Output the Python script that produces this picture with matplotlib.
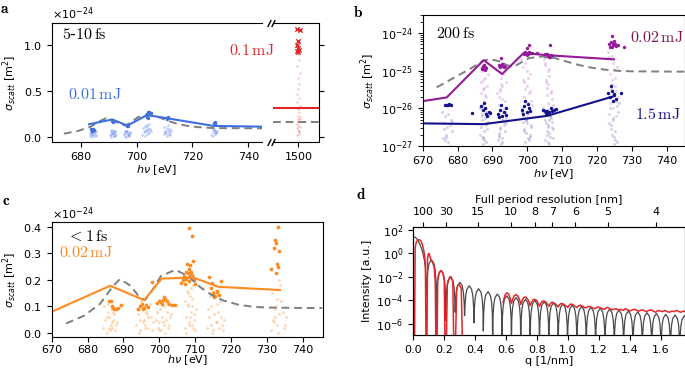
import numpy as np
import matplotlib.pyplot as plt

plt.rcParams['font.size'] = 8
plt.rcParams['mathtext.fontset'] = 'dejavusans'

E24 = 1e-24
GREY = '#7f7f7f'
BLUE = '#3f6ee0'
RED = '#e3262a'
PURPLE = '#951a9a'
PURPLE_TXT = '#7c1650'
NAVY = '#12128c'
ORANGE = '#ff8a1e'

# theory curve shared by a, b, c (sigma in 1e-24 m^2)
theory_e = [674, 679, 683.5, 687, 689, 692, 694.2, 696, 698, 700.5, 704.5, 708, 711.5, 715,
            718, 722, 726, 730, 736, 745.5]
theory_s = [0.036, 0.065, 0.11, 0.175, 0.203, 0.178, 0.14, 0.124, 0.16, 0.215, 0.238, 0.215,
            0.172, 0.14, 0.122, 0.107, 0.099, 0.096, 0.095, 0.094]

# ---- panel a: 5-10 fs, 0.01 mJ (blue) + 0.1 mJ at 1500 eV (red)
a_line_e = [683.0, 691.3, 696.7, 703.8, 711.0, 727.6, 745.0]
a_line_s = [0.138, 0.19, 0.123, 0.238, 0.203, 0.12, 0.112]
a_faint_e = [683.3, 683.9, 684.6, 685.2, 683.6, 684.2, 684.9, 685.6, 683.4, 684.4, 685.0, 684.0, 683.8, 685.4,
             690.6, 691.2, 691.8, 692.4, 690.9, 691.5, 692.1, 692.7, 691.0, 691.7, 692.3, 691.4, 690.8, 692.0,
             695.4, 696.0, 696.6, 697.2, 697.8, 695.7, 696.3, 696.9, 697.5, 696.1, 696.8, 695.9, 697.3, 696.5,
             702.1, 702.7, 703.3, 703.9, 704.5, 705.1, 702.4, 703.0, 703.6, 704.2, 704.8, 702.9, 703.8, 704.4, 703.2, 704.0,
             709.7, 710.3, 710.9, 711.5, 712.1, 710.0, 710.6, 711.2, 711.8, 712.4, 710.8, 711.4, 710.2, 711.6,
             726.7, 727.2, 727.7, 728.2, 728.7, 727.0, 727.5, 728.0, 728.5, 727.3, 727.9, 728.4]
a_faint_s = [0.01, 0.03, 0.02, 0.05, 0.06, 0.00, 0.04, 0.02, 0.04, 0.07, 0.01, 0.05, 0.03, 0.06,
             0.02, 0.05, 0.01, 0.04, 0.06, 0.03, 0.07, 0.02, 0.00, 0.04, 0.06, 0.08, 0.03, 0.01,
             0.03, 0.01, 0.05, 0.02, 0.04, 0.06, 0.00, 0.03, 0.05, 0.07, 0.02, 0.04, 0.01, 0.06,
             0.02, 0.05, 0.08, 0.11, 0.04, 0.07, 0.10, 0.01, 0.13, 0.06, 0.09, 0.12, 0.03, 0.14, 0.06, 0.09,
             0.03, 0.07, 0.01, 0.05, 0.09, 0.11, 0.04, 0.08, 0.02, 0.06, 0.10, 0.13, 0.05, 0.03,
             0.02, 0.05, 0.08, 0.03, 0.06, 0.10, 0.01, 0.07, 0.04, 0.12, 0.09, 0.05]
a_dots_e = [683.8, 684.3, 684.7, 684.1, 691.2, 691.6, 691.9, 696.5, 696.9, 703.4, 703.8, 704.2, 704.6,
            703.6, 704.0, 705.0, 710.8, 711.2, 711.0, 727.8, 728.2, 728.0]
a_dots_s = [0.085, 0.09, 0.08, 0.07, 0.17, 0.16, 0.175, 0.12, 0.115, 0.24, 0.255, 0.27, 0.275,
            0.22, 0.21, 0.26, 0.21, 0.22, 0.2, 0.15, 0.165, 0.14]
a_red_mean = 0.31
a_theory_1500 = 0.166
a_red_x_e = [1499.6, 1500.4, 1500.0, 1499.4, 1499.8, 1500.2, 1499.6, 1500.0]
a_red_x_s = [1.18, 1.16, 1.04, 1.0, 0.97, 0.95, 0.93, 0.92]
a_red_faint_e = [1499.5, 1500.2, 1499.8, 1500.6, 1499.3, 1500.0, 1500.4, 1499.7, 1500.1, 1499.9, 1500.5,
                 1499.4, 1500.3, 1499.6, 1500.0, 1500.2, 1499.8, 1500.4, 1499.5, 1500.1, 1499.9, 1500.3,
                 1499.7, 1500.0, 1500.6, 1499.4, 1500.2, 1499.8]
a_red_faint_s = [0.02, 0.05, 0.08, 0.11, 0.14, 0.17, 0.2, 0.23, 0.27, 0.3, 0.34, 0.38, 0.42, 0.47, 0.52,
                 0.58, 0.64, 0.7, 0.77, 0.84, 0.9, 0.06, 0.12, 0.16, 0.22, 0.1, 0.03, 0.19]

# ---- panel b: 200 fs, log10 sigma
b_pur_e = [670, 676.9, 687.5, 692.8, 699.0, 705.7, 724.9]
b_pur_s = [-25.81, -25.71, -24.72, -25.09, -24.53, -24.59, -24.7]
b_navy_e = [670, 687.5, 705.7, 724.5]
b_navy_s = [-26.4, -26.42, -26.2, -25.69]
b_pur_faint_e = [686.4, 687.1, 687.9, 688.6, 686.8, 687.6, 688.3, 686.6, 687.3, 688.8, 687.0, 687.8, 688.1, 686.9, 687.5, 688.4, 687.2, 688.0,
                 691.4, 692.1, 692.9, 693.6, 691.8, 692.6, 693.3, 691.6, 692.3, 693.9, 692.0, 692.8, 693.1, 691.9, 692.5, 693.4, 692.2, 692.7,
                 698.3, 699.0, 699.8, 700.6, 701.3, 698.7, 699.5, 700.2, 701.0, 698.5, 699.3, 700.0, 700.8, 699.1, 700.4, 699.7, 698.9, 700.9,
                 704.7, 705.3, 706.0, 706.7, 707.3, 705.0, 705.7, 706.4, 707.0, 704.9, 705.5, 706.2, 706.9, 705.9, 706.5, 705.2, 706.1, 705.6,
                 723.2, 723.9, 724.6, 725.3, 726.0, 723.5, 724.2, 724.9, 725.6, 723.7, 724.4, 725.1, 725.8, 724.0, 724.7, 725.4, 724.3, 725.0]
b_pur_faint_s = [-24.8, -25.0, -25.2, -25.4, -25.6, -25.8, -26.0, -25.3, -25.5, -25.1, -26.2, -24.9, -25.7, -25.9, -25.45, -26.1, -25.25, -25.65,
                 -25.6, -25.0, -25.4, -25.8, -26.2, -25.2, -26.0, -24.9, -25.5, -25.3, -25.9, -26.3, -25.1, -25.7, -25.35, -26.1, -25.55, -25.75,
                 -24.7, -25.3, -25.0, -25.6, -25.9, -24.9, -25.5, -25.2, -25.8, -26.1, -24.8, -25.4, -25.1, -25.7, -26.0, -26.3, -25.25, -25.55,
                 -24.7, -25.3, -25.0, -25.6, -25.9, -24.85, -25.45, -25.15, -25.75, -26.05, -25.25, -24.95, -25.55, -25.85, -26.2, -24.8, -25.35, -25.65,
                 -24.5, -25.1, -24.8, -25.4, -25.7, -24.65, -25.25, -24.95, -25.55, -25.85, -24.6, -25.2, -24.9, -25.5, -26.0, -26.2, -25.35, -25.65]
b_navy_faint_e = [675.6, 676.2, 676.8, 677.4, 678.0, 678.5, 675.9, 676.5, 677.1, 677.7, 678.3, 676.0, 676.7, 677.3, 677.9, 676.4,
                  686.4, 687.0, 687.6, 688.2, 688.8, 686.7, 687.3, 687.9, 688.5, 686.5, 687.2, 687.8, 688.4, 687.5, 686.9, 688.1, 687.4, 688.7,
                  691.5, 692.2, 692.8, 693.5, 694.0, 691.8, 692.4, 693.1, 693.7, 691.6, 692.6, 693.3, 692.0, 692.9, 693.8, 692.3, 691.9, 693.4,
                  698.4, 699.0, 699.7, 700.3, 701.0, 698.7, 699.4, 700.0, 700.7, 698.6, 699.2, 699.9, 700.5, 701.2, 699.6, 700.2, 698.9, 700.8,
                  704.6, 705.1, 705.6, 706.1, 706.6, 707.1, 707.5, 704.8, 705.3, 705.8, 706.3, 706.8, 707.3, 705.0, 705.5, 706.0, 706.5, 707.0, 705.7, 706.2, 706.4, 705.9,
                  723.1, 723.8, 724.5, 725.2, 725.9, 726.4, 723.4, 724.1, 724.8, 725.5, 726.1, 723.6, 724.3, 725.0, 725.7, 724.6, 724.0, 725.3]
b_navy_faint_s = [-26.1, -26.4, -26.7, -26.9, -26.3, -26.6, -26.8, -26.2, -26.5, -27.0, -26.35, -26.55, -26.75, -26.15, -26.45, -26.85,
                  -26.0, -26.3, -26.6, -26.9, -26.2, -26.5, -26.8, -26.1, -26.4, -26.7, -26.95, -26.25, -26.55, -26.85, -26.15, -26.45, -26.75, -26.35,
                  -26.2, -26.5, -26.8, -26.1, -26.4, -26.7, -26.95, -26.3, -26.6, -26.85, -26.05, -26.35, -26.65, -26.9, -26.25, -26.55, -26.75, -26.45,
                  -26.1, -26.6, -26.3, -26.8, -26.5, -26.2, -26.9, -26.4, -26.7, -26.0, -26.55, -26.25, -26.85, -26.45, -26.65, -26.15, -26.35, -26.75,
                  -26.0, -26.3, -26.6, -26.9, -26.2, -26.5, -26.8, -26.1, -26.4, -26.7, -26.95, -26.25, -26.55, -26.85, -26.15, -26.45, -26.75, -26.35, -26.05, -26.65, -26.3, -26.5,
                  -25.7, -26.0, -26.3, -26.6, -26.9, -25.85, -26.15, -26.45, -26.75, -25.8, -26.1, -26.4, -26.7, -26.95, -25.95, -26.25, -26.55, -26.85]
b_pur_dots_e = [687.0, 687.5, 688.0, 687.3, 687.8, 688.3, 686.9, 687.6,
                691.8, 692.4, 693.0, 693.5, 692.1, 692.8, 693.3, 692.6,
                699.2, 699.7, 700.2, 700.7, 699.9, 700.4, 701.5, 699.4, 699.8, 700.6, 702.8,
                705.0, 705.5, 706.0, 706.5, 707.0, 705.8, 706.8, 706.2, 705.2, 706.5,
                723.5, 724.0, 724.5, 725.0, 725.5, 724.2, 724.8, 725.3, 723.8, 724.6, 724.4, 727.8, 726.0, 677.2]
b_pur_dots_s = [-24.92, -24.95, -24.9, -24.88, -24.97, -24.93, -24.96, -24.86,
                -24.85, -24.88, -24.83, -24.87, -24.9, -24.82, -24.9, -24.66,
                -24.55, -24.52, -24.56, -24.53, -24.58, -24.5, -24.54, -24.5, -24.4, -24.33, -24.52,
                -24.6, -24.62, -24.58, -24.63, -24.6, -24.56, -24.58, -24.65, -24.57, -24.33,
                -24.3, -24.25, -24.32, -24.28, -24.35, -24.38, -24.22, -24.3, -24.36, -24.28, -24.08, -24.38, -24.32, -25.9]
b_navy_dots_e = [676.5, 677.1, 677.6, 678.0, 684.1,
                 686.6, 687.2, 687.8, 688.3, 688.9, 687.5, 688.6, 689.3,
                 691.6, 692.2, 692.8, 693.4, 694.0, 692.5, 693.8, 691.9,
                 698.5, 699.2, 699.8, 700.4, 700.9, 699.5, 698.9, 700.2,
                 704.5, 705.2, 705.8, 706.4, 707.0, 707.6, 705.5, 706.8, 706.1, 708.3,
                 723.2, 723.8, 724.3, 724.9, 725.4, 724.6, 724.1, 726.8, 725.0]
b_navy_dots_s = [-25.9, -25.92, -25.88, -25.91, -26.12,
                 -25.95, -26.05, -26.0, -26.15, -26.1, -25.85, -26.2, -26.12,
                 -26.15, -26.05, -26.2, -26.1, -26.0, -25.92, -26.18, -26.22,
                 -26.05, -25.95, -26.1, -26.0, -26.08, -25.8, -26.15, -25.88,
                 -26.05, -26.08, -26.06, -26.1, -26.07, -26.04, -26.12, -26.0, -26.14, -26.02,
                 -25.6, -25.7, -25.55, -25.65, -25.75, -25.8, -25.4, -25.58, -25.62]

# ---- panel c: < 1 fs, 0.02 mJ (orange)
c_line_e = [670, 686.3, 695.8, 700.7, 709.5, 716.5, 733.7]
c_line_s = [0.08, 0.178, 0.124, 0.205, 0.209, 0.174, 0.162]
c_faint_e = [684.4, 685.0, 685.6, 686.2, 686.8, 687.4, 688.0, 684.7, 685.3, 685.9, 686.5, 687.1, 687.7, 688.3, 685.8, 686.6, 686.0, 687.0, 685.5, 686.9,
             693.4, 694.0, 694.6, 695.2, 695.8, 696.4, 697.0, 697.6, 698.2, 693.7, 694.3, 694.9, 695.5, 696.1, 696.7, 697.3, 697.9, 694.5, 695.9, 696.9,
             699.1, 699.7, 700.3, 700.9, 701.5, 702.1, 702.7, 703.3, 699.4, 700.0, 700.6, 701.2, 701.8, 702.4, 703.0, 700.1, 701.4, 702.2, 699.9, 701.0,
             707.1, 707.6, 708.1, 708.6, 709.1, 709.6, 710.1, 707.3, 707.8, 708.3, 708.8, 709.3, 709.8, 710.3, 707.5, 708.0, 708.5, 709.0, 709.5, 708.2, 708.7, 707.9, 709.2, 708.4, 708.9,
             713.3, 713.9, 714.5, 715.1, 715.7, 716.3, 716.9, 717.5, 718.1, 713.6, 714.2, 714.8, 715.4, 716.0, 716.6, 717.2, 717.8, 715.0, 716.1, 714.4,
             731.1, 731.7, 732.3, 732.9, 733.5, 734.1, 734.7, 735.3, 731.4, 732.0, 732.6, 733.2, 733.8, 734.4, 735.0, 732.8, 733.3, 732.2]
c_faint_s = [0.02, 0.05, 0.08, 0.01, 0.04, 0.07, 0.03, 0.10, 0.06, 0.02, 0.09, 0.05, 0.01, 0.04, 0.11, 0.03, 0.06, 0.08, 0.00, 0.02,
             0.03, 0.07, 0.01, 0.10, 0.05, 0.08, 0.02, 0.06, 0.04, 0.09, 0.00, 0.12, 0.04, 0.02, 0.07, 0.11, 0.01, 0.05, 0.03, 0.06,
             0.05, 0.02, 0.09, 0.06, 0.00, 0.11, 0.03, 0.07, 0.08, 0.04, 0.01, 0.10, 0.05, 0.02, 0.06, 0.12, 0.03, 0.08, 0.01, 0.04,
             0.02, 0.06, 0.10, 0.14, 0.03, 0.07, 0.01, 0.12, 0.16, 0.04, 0.08, 0.18, 0.05, 0.09, 0.00, 0.11, 0.20, 0.13, 0.02, 0.22, 0.06, 0.15, 0.10, 0.03, 0.17,
             0.02, 0.06, 0.10, 0.01, 0.04, 0.08, 0.12, 0.03, 0.05, 0.09, 0.14, 0.00, 0.07, 0.11, 0.02, 0.06, 0.01, 0.16, 0.04, 0.03,
             0.01, 0.05, 0.09, 0.03, 0.07, 0.12, 0.02, 0.06, 0.15, 0.04, 0.10, 0.00, 0.18, 0.08, 0.03, 0.13, 0.20, 0.06]
c_dots_e = [685.9, 686.5, 686.9, 687.4, 688.0, 688.6, 689.4, 687.0,
            694.6, 695.2, 695.8, 696.3, 696.9, 695.5, 697.9, 694.2,
            699.3, 699.9, 700.5, 701.0, 701.6, 702.2, 700.8, 702.8, 703.6, 704.4, 701.3,
            706.5, 707.0, 707.5, 708.0, 708.4, 708.8, 709.2, 709.6, 707.8, 708.6, 709.4, 708.2, 707.3, 709.9,
            708.9, 708.3, 709.0, 706.0, 707.6, 708.7,
            713.9, 714.5, 715.1, 715.6, 716.2, 716.8, 717.3, 714.8, 715.3, 716.0,
            731.2, 732.0, 732.4, 732.6, 733.0, 733.4, 733.2, 732.5, 732.8]
c_dots_s = [0.122, 0.12, 0.103, 0.092, 0.09, 0.093, 0.105, 0.096,
            0.1, 0.11, 0.095, 0.105, 0.098, 0.09, 0.193, 0.092,
            0.115, 0.12, 0.118, 0.125, 0.13, 0.12, 0.11, 0.108, 0.107, 0.105, 0.135,
            0.2, 0.215, 0.23, 0.225, 0.24, 0.21, 0.22, 0.2, 0.26, 0.255, 0.27, 0.195, 0.185, 0.185,
            0.23, 0.395, 0.365, 0.19, 0.205, 0.215,
            0.21, 0.17, 0.15, 0.14, 0.16, 0.145, 0.195, 0.19, 0.135, 0.155,
            0.24, 0.32, 0.35, 0.34, 0.4, 0.31, 0.25, 0.225, 0.26]

# ---- panel d: scattering intensity vs q (log10 intensity)
d_centre_q = [0.0, 0.015, 0.03, 0.045, 0.06, 0.07, 0.078, 0.083]
d_centre_i = [1.43, 1.36, 1.12, 0.72, 0.12, -0.45, -1.2, -2.2]
d_min_q = [0.0864, 0.1486, 0.2097, 0.2705, 0.3312, 0.3918, 0.4523, 0.5128, 0.5733, 0.6338, 0.6942,
           0.7547, 0.8151, 0.8755, 0.9359, 0.9963, 1.0567, 1.1171, 1.1775, 1.2379, 1.2983, 1.3587,
           1.4191, 1.4795, 1.5399, 1.6003, 1.6607, 1.7211, 1.7815]
d_min_i = [-3.7, -6.1, -5.7, -5.0, -5.3, -5.9, -6.6] + [-8.0] * 22
d_peak_i = [-0.55, -1.45, -2.0, -2.45, -2.75, -3.0, -3.25, -3.45, -3.6, -3.75, -3.9, -4.0, -4.1, -4.2,
            -4.3, -4.4, -4.5, -4.58, -4.66, -4.74, -4.82, -4.9, -4.97, -5.04, -5.11, -5.18, -5.24, -5.3]
# lobe shape: fraction across a lobe, log drop from its top
lobe_t = [0.04, 0.12, 0.25, 0.5, 0.75, 0.88, 0.96]
lobe_drop = [-1.8, -0.87, -0.3, 0.0, -0.3, -0.87, -1.8]

d_red_lo_q = [0.008, 0.012, 0.02, 0.03, 0.04, 0.05, 0.06, 0.07, 0.078, 0.082, 0.088, 0.092, 0.097, 0.102,
              0.108, 0.115, 0.125, 0.135, 0.142, 0.146, 0.153, 0.158, 0.168, 0.178, 0.19, 0.2, 0.205,
              0.213, 0.22, 0.235, 0.245, 0.255, 0.262, 0.272, 0.28, 0.29, 0.3, 0.31, 0.318]
d_red_lo_i = [-8, 0.5, 1.0, 1.15, 1.18, 1.05, 0.7, 0.1, -0.8, -8, -8, -0.4, -0.05, 0.0,
              -0.3, -0.55, -0.75, -1.2, -2.5, -8, -8, -2.3, -1.6, -1.45, -1.6, -2.3, -8,
              -8, -2.6, -2.0, -2.0, -2.4, -8, -8, -3.0, -2.68, -2.7, -3.0, -8]
d_red_hi_q = [0.580, 0.592, 0.604, 0.616, 0.626, 0.634, 0.642, 0.652, 0.664, 0.676, 0.688, 0.695, 0.703,
              0.713, 0.725, 0.737, 0.748, 0.755, 0.763, 0.773, 0.785, 0.797, 0.808, 0.815, 0.823, 0.834,
              0.846, 0.858, 0.869, 0.876, 0.884, 0.895, 0.907, 0.918, 0.929, 0.936, 0.945, 0.956, 0.968,
              0.980, 0.990, 0.998, 1.007, 1.018, 1.03, 1.045, 1.057, 1.068, 1.08, 1.095, 1.108, 1.118,
              1.13, 1.145, 1.16, 1.175, 1.19, 1.205, 1.22, 1.235, 1.25, 1.265, 1.28, 1.295, 1.31, 1.325,
              1.34, 1.355, 1.37, 1.385, 1.40, 1.415, 1.43, 1.445, 1.46, 1.475, 1.49, 1.505, 1.52, 1.535,
              1.55, 1.565, 1.58, 1.595, 1.61, 1.625, 1.64, 1.655, 1.67, 1.685, 1.70, 1.715, 1.73, 1.745, 1.76]
d_red_hi_i = [-4.15, -3.55, -3.35, -3.45, -3.85, -4.25, -3.9, -3.6, -3.5, -3.65, -4.0, -4.35, -4.0,
              -3.75, -3.7, -3.85, -4.15, -4.45, -4.15, -3.95, -3.9, -4.0, -4.3, -4.5, -4.25, -4.05,
              -4.05, -4.15, -4.35, -4.5, -4.3, -4.15, -4.2, -4.3, -4.45, -4.55, -4.35, -4.25, -4.3,
              -4.4, -4.5, -4.6, -4.4, -4.3, -4.35, -4.5, -4.6, -4.45, -4.4, -4.5, -4.62, -4.6,
              -4.5, -4.55, -4.65, -4.7, -4.55, -4.6, -4.7, -4.75, -4.6, -4.65, -4.8, -4.75, -4.7, -4.8,
              -4.75, -4.85, -4.7, -4.8, -4.9, -4.8, -4.75, -4.85, -4.9, -4.8, -4.85, -4.95, -4.85, -4.8,
              -4.9, -5.0, -4.85, -4.9, -4.95, -4.85, -4.95, -5.0, -4.9, -4.95, -4.85, -4.95, -5.0, -4.9, -4.95]
top_res = [100, 30, 15, 10, 8, 7, 6, 5, 4]

W, H = 685, 370


def box(x0, x1, y0, y1):
    # pixel box -> figure fraction
    return [x0 / W, 1 - y1 / H, (x1 - x0) / W, (y1 - y0) / H]


def mtext(ax, x, y, s, color, size=11.5, ha='left'):
    ax.text(x, y, s, transform=ax.transAxes, color=color, fontsize=size, ha=ha, va='center',
            math_fontfamily='cm')


ylab = r'$\sigma_{scatt}$ [m$^2$]'
xlab = r'$h\nu$ [eV]'
dash = dict(color=GREY, lw=1.4, ls=(0, (4, 2.5)))

fig = plt.figure(figsize=(6.85, 3.7), dpi=100)

# ---------------- a
ax = fig.add_axes(box(52, 262, 23, 142))
axb = fig.add_axes(box(273, 319, 23, 142), sharey=ax)
ax.scatter(a_faint_e, np.array(a_faint_s) * E24, s=4, color=BLUE, alpha=0.3, lw=0)
ax.plot(theory_e, np.array(theory_s) * E24, **dash)
ax.plot(a_line_e, np.array(a_line_s) * E24, color=BLUE, lw=1.5)
ax.scatter(a_dots_e, np.array(a_dots_s) * E24, s=6, color=BLUE, lw=0)
ax.set_xlim(669.75, 744.9)
ax.set_ylim(-0.055 * E24, 1.24 * E24)
ax.set_xticks([680, 700, 720, 740])
ax.set_yticks([0, 0.5 * E24, 1.0 * E24])
ax.ticklabel_format(axis='y', style='sci', scilimits=(-24, -24), useMathText=True)
ax.spines['right'].set_visible(False)
ax.set_xlabel(xlab, labelpad=1)
ax.set_ylabel(ylab, labelpad=3)
mtext(ax, 0.05, 0.9, r'$5$-$10\,\mathrm{fs}$', 'black')
mtext(ax, 0.076, 0.40, r'$0.01\,\mathrm{mJ}$', BLUE)
mtext(ax, 0.843, 0.77, r'$0.1\,\mathrm{mJ}$', RED)

axb.scatter(a_red_faint_e, np.array(a_red_faint_s) * E24, s=2, color=RED, alpha=0.35, lw=0)
axb.axhline(a_theory_1500 * E24, **dash)
axb.axhline(a_red_mean * E24, color=RED, lw=1.5)
axb.scatter(a_red_x_e, np.array(a_red_x_s) * E24, marker='x', s=10, color=RED, lw=1)
axb.set_xlim(1490.7, 1507.5)
axb.set_xticks([1500])
axb.spines['left'].set_visible(False)
axb.yaxis.tick_right()
axb.tick_params(axis='y', labelright=False)
axb.yaxis.get_offset_text().set_visible(False)
for yy in (0, 1):
    for xo in (-0.08, 0.0):
        axb.plot([xo], [yy], transform=axb.transAxes, marker=[(-0.5, -1), (0.5, 1)],
                 ms=5, mew=1, color='k', clip_on=False)

# ---------------- b
ax = fig.add_axes(box(422.7, 685, 15, 146))
ax.set_yscale('log')
ax.scatter(b_pur_faint_e, 10 ** np.array(b_pur_faint_s), s=5, color=PURPLE, alpha=0.18, lw=0)
ax.scatter(b_navy_faint_e, 10 ** np.array(b_navy_faint_s), s=5, color=NAVY, alpha=0.18, lw=0)
ax.plot(theory_e, np.array(theory_s) * E24, **dash)
ax.plot(b_pur_e, 10 ** np.array(b_pur_s), color=PURPLE, lw=1.5)
ax.plot(b_navy_e, 10 ** np.array(b_navy_s), color=NAVY, lw=1.5)
ax.scatter(b_pur_dots_e, 10 ** np.array(b_pur_dots_s), s=6, color=PURPLE, lw=0)
ax.scatter(b_navy_dots_e, 10 ** np.array(b_navy_dots_s), s=6, color=NAVY, lw=0)
ax.set_xlim(670, 745.3)
ax.set_ylim(1e-27, 3e-24)
ax.set_yticks([1e-27, 1e-26, 1e-25, 1e-24])
ax.set_xticks(np.arange(670, 745, 10))
ax.set_xlabel(xlab, labelpad=1)
ax.set_ylabel(ylab, labelpad=3)
mtext(ax, 0.05, 0.86, r'$200\,\mathrm{fs}$', 'black')
mtext(ax, 0.79, 0.83, r'$0.02\,\mathrm{mJ}$', PURPLE_TXT)
mtext(ax, 0.81, 0.24, r'$1.5\,\mathrm{mJ}$', NAVY)

# ---------------- c
ax = fig.add_axes(box(51.7, 322.7, 222.3, 337.3))
ax.scatter(c_faint_e, np.array(c_faint_s) * E24, s=4, color=ORANGE, alpha=0.35, lw=0)
ax.plot(theory_e, np.array(theory_s) * E24, **dash)
ax.plot(c_line_e, np.array(c_line_s) * E24, color=ORANGE, lw=1.5)
ax.scatter(c_dots_e, np.array(c_dots_s) * E24, s=7, color=ORANGE, lw=0)
ax.set_xlim(670, 745.6)
ax.set_ylim(-0.016 * E24, 0.417 * E24)
ax.set_xticks(np.arange(670, 745, 10))
ax.set_yticks(np.arange(0, 0.41, 0.1) * E24)
ax.ticklabel_format(axis='y', style='sci', scilimits=(-24, -24), useMathText=True)
ax.tick_params(axis='x', pad=2)
ax.set_xlabel(xlab, labelpad=-1)
ax.set_ylabel(ylab, labelpad=3)
mtext(ax, 0.055, 0.88, r'$<1\,\mathrm{fs}$', 'black')
mtext(ax, 0.028, 0.74, r'$0.02\,\mathrm{mJ}$', ORANGE)

# ---------------- d
bq = list(d_centre_q)
bi = list(d_centre_i)
for k in range(len(d_peak_i)):
    q0, q1 = d_min_q[k], d_min_q[k + 1]
    bq.append(q0)
    bi.append(d_min_i[k])
    for t, dr in zip(lobe_t, lobe_drop):
        bq.append(q0 + t * (q1 - q0))
        bi.append(d_peak_i[k] + dr)
bq.append(d_min_q[-1])
bi.append(d_min_i[-1])

ax = fig.add_axes(box(413.3, 685, 226.7, 335))
ax.set_yscale('log')
ax.plot(bq, 10 ** np.array(bi), color='#2a2a2a', lw=0.9, alpha=0.85)
ax.plot(d_red_lo_q, 10 ** np.array(d_red_lo_i), color=RED, lw=1.1)
ax.plot(d_red_hi_q, 10 ** np.array(d_red_hi_i), color=RED, lw=1.1)
ax.set_xlim(0, 1.755)
ax.set_ylim(1.15e-7, 1.9e2)
ax.set_xticks(np.arange(0, 1.7, 0.2))
ax.set_xticklabels([f'{v:.1f}' for v in np.arange(0, 1.7, 0.2)])
ax.set_yticks([1e2, 1e0, 1e-2, 1e-4, 1e-6])
ax.minorticks_off()
ax.set_xlabel('q [1/nm]', labelpad=1)
ax.set_ylabel('Intensity [a.u.]', labelpad=3)
axt = ax.twiny()
axt.set_xlim(ax.get_xlim())
axt.set_xticks([2 * np.pi / r for r in top_res])
axt.set_xticklabels([str(r) for r in top_res])
axt.set_xlabel('Full period resolution [nm]', labelpad=3)

# panel letters
for lx, ly, s in [(0.007, 0.978, 'a'), (0.523, 0.966, 'b'), (0.009, 0.459, 'c'), (0.527, 0.475, 'd')]:
    fig.text(lx, ly, r'$\mathbf{' + s + '}$', math_fontfamily='cm', fontsize=11, ha='center', va='center')

fig.savefig('out.png', dpi=100)
